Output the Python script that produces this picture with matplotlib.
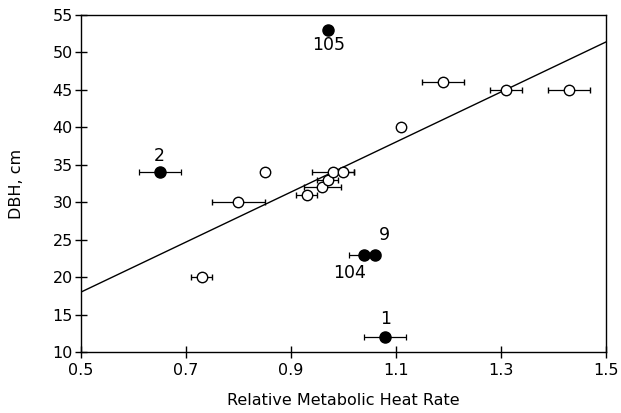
import numpy as np
import matplotlib
matplotlib.use('Agg')
import matplotlib.pyplot as plt

# open circles (trees on the regression)
open_x = [0.73, 0.80, 0.85, 0.93, 0.96, 0.97, 0.98, 1.00, 1.11, 1.19, 1.31, 1.43]
open_y = [20, 30, 34, 31, 32, 33, 34, 34, 40, 46, 45, 45]
open_xerr = [0.02, 0.05, 0.0, 0.02, 0.035, 0.02, 0.04, 0.02, 0.0, 0.04, 0.03, 0.04]

# filled circles (outliers), with their labels
fill_x = [0.65, 0.97, 1.04, 1.06, 1.08]
fill_y = [34, 53, 23, 23, 12]
fill_xerr = [0.04, 0.0, 0.03, 0.0, 0.04]
fill_labels = ['2', '105', '104', '9', '1']
label_offsets = [(0, 12), (1, -11), (-11, -13), (7, 14), (0, 13)]  # points

# regression line
fit_intercept = 1.3
fit_slope = 33.4

x_ticks = [0.5, 0.7, 0.9, 1.1, 1.3, 1.5]
y_ticks = [10, 15, 20, 25, 30, 35, 40, 45, 50, 55]

plt.rcParams['font.family'] = ['DejaVu Sans']

fig = plt.figure(figsize=(6.21, 4.13), dpi=100)
ax = fig.add_axes([0.1304, 0.1477, 0.8454, 0.816])

lx = np.array([0.5, 1.5])
ax.plot(lx, fit_intercept + fit_slope * lx, color='black', lw=1.0, zorder=1)

ax.errorbar(open_x, open_y, xerr=open_xerr, fmt='o', ms=7.5, mfc='white',
            mec='black', mew=1.0, ecolor='black', elinewidth=0.9,
            capsize=2.2, capthick=0.9, zorder=3)
ax.errorbar(fill_x, fill_y, xerr=fill_xerr, fmt='o', ms=8, mfc='black',
            mec='black', ecolor='black', elinewidth=0.9,
            capsize=2.2, capthick=0.9, zorder=4)

for x, y, lab, off in zip(fill_x, fill_y, fill_labels, label_offsets):
    ax.annotate(lab, (x, y), xytext=off, textcoords='offset points',
                ha='center', va='center', fontsize=12.5)

ax.set_xlim(0.5, 1.5)
ax.set_ylim(10, 55)
ax.set_xticks(x_ticks)
ax.set_yticks(y_ticks)
ax.set_xticklabels(['%.1f' % v for v in x_ticks])
ax.tick_params(direction='inout', length=8, width=1.0, labelsize=11.5)
ax.tick_params(axis='x', pad=4)
ax.tick_params(axis='y', pad=2)
for s in ax.spines.values():
    s.set_linewidth(1.0)

ax.set_xlabel('Relative Metabolic Heat Rate', fontsize=11.5, labelpad=11)
ax.set_ylabel('DBH, cm', fontsize=11.5, labelpad=20)

fig.savefig('out.png', dpi=100)
